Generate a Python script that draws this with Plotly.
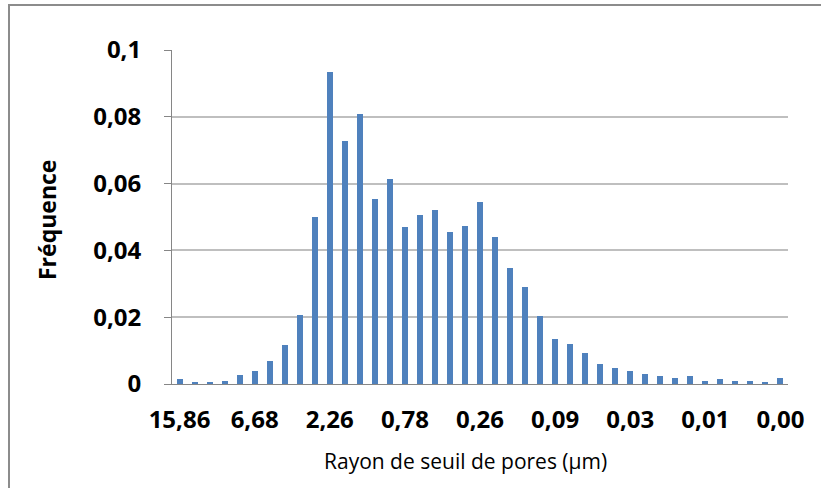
import plotly.graph_objects as go

# ---- data ----
frequences = [0.0015, 0.0004, 0.0004, 0.0010, 0.0026, 0.0038, 0.0069, 0.0118, 0.0207,
              0.0501, 0.0933, 0.0728, 0.0809, 0.0554, 0.0613, 0.0471, 0.0507, 0.0522,
              0.0454, 0.0474, 0.0544, 0.0439, 0.0347, 0.0289, 0.0205, 0.0135, 0.0120,
              0.0092, 0.0061, 0.0048, 0.0038, 0.0031, 0.0025, 0.0018, 0.0023, 0.0010,
              0.0015, 0.0008, 0.0008, 0.0006, 0.0018]
x_label_positions = [0, 5, 10, 15, 20, 25, 30, 35, 40]
x_tick_labels = ["15,86", "6,68", "2,26", "0,78", "0,26", "0,09", "0,03", "0,01", "0,00"]
y_tick_values = [0, 0.02, 0.04, 0.06, 0.08, 0.1]
y_tick_labels = ["0", "0,02", "0,04", "0,06", "0,08", "0,1"]

n = len(frequences)
categories = list(range(n))

FONT = "Open Sans"
AXIS_COLOR = "#868686"
GRID_COLOR = "#BFBFBF"

fig = go.Figure()
fig.add_trace(go.Bar(x=categories, y=frequences, width=0.4,
                     marker=dict(color="#4F81BD", line=dict(width=0)),
                     showlegend=False, hoverinfo="y"))

W, H = 821, 488
L, R, T, B = 172, 33, 50, 104
pw, ph = W - L - R, H - T - B

fig.update_layout(
    width=W, height=H,
    margin=dict(l=L, r=R, t=T, b=B, pad=0),
    paper_bgcolor="white", plot_bgcolor="white",
    bargap=0,
    xaxis=dict(range=[-0.5, n - 0.5], tickmode="array", tickvals=x_label_positions,
               ticktext=x_tick_labels, ticks="", showgrid=False, zeroline=False,
               showline=True, linecolor=AXIS_COLOR, linewidth=1,
               tickfont=dict(family=FONT, size=24, color="#000000", weight="bold"),
               ticklabelstandoff=14),
    xaxis2=dict(range=[-0.5, n - 0.5], overlaying="x", side="bottom", anchor="y",
                tickmode="array", tickvals=[i - 0.5 for i in range(n + 1)],
                ticks="outside", ticklen=7, tickcolor=AXIS_COLOR, tickwidth=1,
                showticklabels=False, showgrid=False, zeroline=False, showline=False),
    yaxis=dict(range=[0, 0.1], tickmode="array", tickvals=y_tick_values,
               ticktext=y_tick_labels, ticks="outside", ticklen=7,
               tickcolor=AXIS_COLOR, showgrid=True, gridcolor=GRID_COLOR,
               gridwidth=1.5, zeroline=False, showline=True, linecolor=AXIS_COLOR,
               linewidth=1,
               tickfont=dict(family=FONT, size=24, color="#000000", weight="bold"),
               ticklabelstandoff=18),
    annotations=[
        dict(text="Fréquence", xref="paper", yref="paper",
             x=(47 - L) / pw, y=(H - B - 220) / ph, xanchor="center", yanchor="middle",
             textangle=-90, showarrow=False,
             font=dict(family=FONT, size=23, color="#000000", weight="bold")),
        dict(text="Rayon de seuil de pores (µm)", xref="paper", yref="paper",
             x=(465 - L) / pw, y=(H - B - 461) / ph, xanchor="center", yanchor="middle",
             showarrow=False,
             font=dict(family=FONT, size=21, color="#000000")),
    ],
    shapes=[dict(type="rect", xref="paper", yref="paper",
                 x0=(9 - L) / pw, x1=(830 - L) / pw,
                 y0=(H - B - 500) / ph, y1=(H - B - 5) / ph,
                 line=dict(color="#8C8C8C", width=2), fillcolor="rgba(0,0,0,0)",
                 layer="below")],
)

fig.write_html("out.html",
               config={"displayModeBar": False},
               post_script="document.body.style.margin='0px';"
                           "document.body.style.overflow='hidden';")
